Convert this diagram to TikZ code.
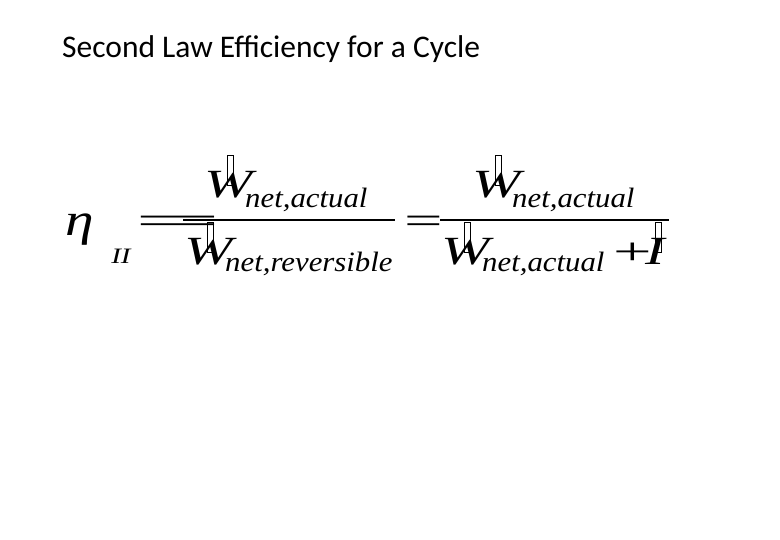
\documentclass[tikz,border=0pt]{standalone}
\usepackage{fontspec}
\setmainfont{Liberation Serif}
\newfontfamily\titlefont{Carlito}
\begin{document}
\begin{tikzpicture}[x=1pt,y=-1pt,
  big/.style={inner sep=0,anchor=base west,xscale=1.45,font=\fontsize{40}{40}\selectfont\itshape},
  sub/.style={inner sep=0,anchor=base west,xscale=1.1,font=\fontsize{28}{30}\selectfont\itshape},
  op/.style={inner sep=0,anchor=base west,xscale=1.8,font=\fontsize{38}{40}\selectfont},
  gbox/.style={draw,line width=0.8pt,minimum width=6pt,minimum height=30pt,inner sep=0,anchor=north west}]
\useasboundingbox[fill=white] (0,0) rectangle (780,540);
\node[inner sep=0,anchor=base west,font=\titlefont\fontsize{31.5}{34}\selectfont] (title) at (62,58) {Second Law Efficiency for a Cycle};
\node[inner sep=0,anchor=base west,xscale=1.25,font=\fontsize{46}{50}\selectfont\itshape] (eta) at (65,236) {η};
\node[sub,xscale=1.2,font=\fontsize{22}{24}\selectfont\itshape] (II) at (111,264) {II};
\node[op,xscale=2.3] (eq1) at (133,234) {=};
% fraction 1
\node[big] (w1) at (204,198) {W};
\node[gbox] (b1) at (227,155) {};
\node[sub] (s1) at (245,208) {net,actual};
\draw[line width=1.3pt] (183,220) coordinate (l1a) -- (395,220) coordinate (l1b);
\node[big] (w2) at (184,265) {W};
\node[gbox] (b2) at (207,222) {};
\node[sub] (s2) at (225,272) {net,reversible};
\node[op] (eq2) at (404,234) {=};
% fraction 2
\draw[line width=1.3pt] (440,220) coordinate (l2a) -- (669,220) coordinate (l2b);
\node[big] (w3) at (472,198) {W};
\node[gbox] (b3) at (495,155) {};
\node[sub] (s3) at (512,208) {net,actual};
\node[big] (w4) at (441,265) {W};
\node[gbox] (b4) at (464,222) {};
\node[sub] (s4) at (482,272) {net,actual};
\node[op] (plus) at (613,265) {+};
\node[big] (I) at (645,265) {I};
\node[gbox] (b5) at (655,222) {};
\end{tikzpicture}
\end{document}
